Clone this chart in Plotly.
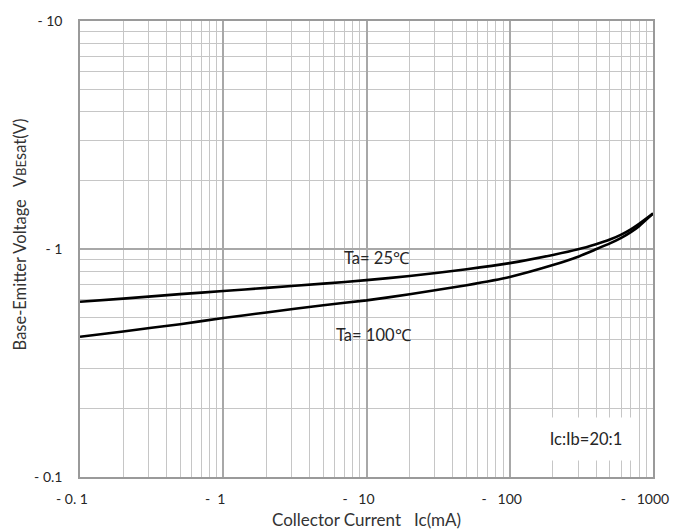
import plotly.graph_objects as go

# Data
ic_ma = [0.1, 0.2, 0.5, 1, 2, 5, 10, 20, 50, 100, 200, 300, 400, 500, 600, 700, 800, 1000]
vbe_25c = [0.587, 0.606, 0.634, 0.654, 0.675, 0.705, 0.73, 0.761, 0.815, 0.867, 0.942, 0.997, 1.05, 1.10, 1.157, 1.22, 1.29, 1.43]
vbe_100c = [0.412, 0.435, 0.468, 0.498, 0.527, 0.567, 0.595, 0.633, 0.694, 0.754, 0.85, 0.925, 0.997, 1.058, 1.119, 1.186, 1.26, 1.43]

x_tickvals = [0.1, 1, 10, 100, 1000]
x_ticktext = ["-\u00a00.\u00a01", "-\u00a0\u00a01", "-\u00a0\u00a0\u00a010", "-\u00a0\u00a0\u00a0100", "-\u00a0\u00a0\u00a01000"]
y_tickvals = [0.1, 1, 10]
y_ticktext = ["-\u00a00.1", "-\u00a01", "-\u00a010"]

x_minor = [m * 10 ** e for e in range(-1, 3) for m in range(2, 10)]
y_minor = [m * 10 ** e for e in range(-1, 1) for m in range(2, 10)]

FONT = "Lato, 'Open Sans', sans-serif"
TXT = "#262626"

fig = go.Figure()
fig.add_trace(go.Scatter(x=ic_ma, y=vbe_25c, mode="lines", line=dict(color="black", width=2.6, shape="spline", smoothing=0.5),
                         name="Ta=25", showlegend=False, hoverinfo="skip"))
fig.add_trace(go.Scatter(x=ic_ma, y=vbe_100c, mode="lines", line=dict(color="black", width=2.6, shape="spline", smoothing=0.5),
                         name="Ta=100", showlegend=False, hoverinfo="skip"))

fig.update_layout(
    width=689, height=531,
    margin=dict(l=80, r=36, t=15, b=54),
    paper_bgcolor="white", plot_bgcolor="white",
    font=dict(family=FONT, size=14, color=TXT),
    xaxis=dict(type="log", range=[-1, 3], tickmode="array", tickvals=x_tickvals, ticktext=x_ticktext,
               showgrid=True, gridcolor="#a8a8a8", gridwidth=1.5,
               minor=dict(tickvals=x_minor, showgrid=True, gridcolor="#c6c6c6", gridwidth=1),
               showline=True, linecolor="#9a9a9a", linewidth=1.5, mirror=True, ticks="",
               ticklabelshift=-8, ticklabelstandoff=8, tickfont=dict(size=14, color=TXT)),
    yaxis=dict(type="log", range=[-1, 1], tickmode="array", tickvals=y_tickvals, ticktext=y_ticktext,
               showgrid=True, gridcolor="#a8a8a8", gridwidth=1.5,
               minor=dict(tickvals=y_minor, showgrid=True, gridcolor="#c6c6c6", gridwidth=1),
               showline=True, linecolor="#9a9a9a", linewidth=1.5, mirror=True, ticks="",
               ticklabelstandoff=13, tickfont=dict(size=14, color=TXT)),
    annotations=[
        dict(text="Ta= 25\u2103", x=1.073, y=-0.04, xref="x", yref="y", showarrow=False,
             font=dict(size=16.5, color=TXT)),
        dict(text="Ta= 100\u2103", x=1.052, y=-0.377, xref="x", yref="y", showarrow=False,
             font=dict(size=16.5, color=TXT)),
        dict(text="Ic:Ib=20:1", x=2.532, y=-0.835, xref="x", yref="y", showarrow=False,
             font=dict(size=16.5, color=TXT), bgcolor="white", width=100, height=38, borderpad=2),
        dict(text="Collector Current \u00a0 Ic(mA)", x=0.5, y=0, xref="paper", yref="paper",
             yanchor="middle", yshift=-42, showarrow=False, font=dict(size=17, color="#333333")),
        dict(text="Base-Emitter Voltage \u00a0 V<span style='font-size:13px'>BE</span>sat(V)",
             x=0, y=0.532, xref="paper", yref="paper", xanchor="center", yanchor="middle",
             xshift=-60, textangle=-90, showarrow=False, font=dict(size=16.5, color="#333333")),
    ],
)

fig.write_html("out.html")
